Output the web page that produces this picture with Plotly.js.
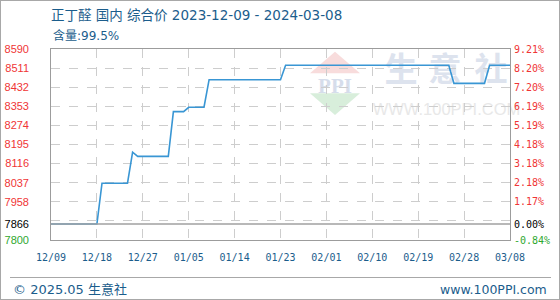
<!DOCTYPE html>
<html>
<head>
<meta charset="utf-8">
<script src="https://cdn.plot.ly/plotly-3.0.1.min.js"></script>
<style>
  html, body { margin: 0; padding: 0; background: #fff; }
  #frame { width: 560px; height: 300px; box-sizing: border-box; border: 1px solid #a8a8a8; }
  #chart { width: 558px; height: 298px; }
</style>
</head>
<body>
<div id="frame"><div id="chart"></div></div>
<script>
// n-Butyraldehyde, domestic composite price (CNY/t)
const dates = [
  '2023-12-09', '2023-12-18', '2023-12-19', '2023-12-24', '2023-12-25',
  '2023-12-26', '2024-01-01', '2024-01-02', '2024-01-04', '2024-01-05',
  '2024-01-08', '2024-01-09', '2024-01-23', '2024-01-24', '2024-02-25',
  '2024-02-26', '2024-03-03', '2024-03-04', '2024-03-08'
];
const prices = [
  7866, 7866, 8035, 8035, 8163,
  8146, 8146, 8331, 8331, 8349,
  8349, 8463, 8463, 8523, 8523,
  8448, 8448, 8523, 8523
];

// axis labels: price on the left, change vs. first day on the right
const priceTicks = [7800, 7866, 7958, 8037, 8116, 8195, 8274, 8353, 8432, 8511, 8590];
const priceTickText = ['7800', '7866', '7958', '8037', '8116', '8195', '8274', '8353', '8432', '8511', '8590'];
const changeTickText = ['-0.84%', '0.00%', '1.17%', '2.18%', '3.18%', '4.18%', '5.19%', '6.19%', '7.20%', '8.20%', '9.21%'];

const titleText = '正丁醛 国内 综合价 2023-12-09 - 2024-03-08';
const subtitleText = '含量:99.5%';
const footerLeft = '© 2025.05 生意社';
const footerRight = 'www.100PPI.com';

const basePrice = prices[0];
const RED = '#f03535', GREEN = '#2fa82f', BLACK = '#000';
const NAVY = '#1b5d8c';

function tint(v, label) {
  const c = v > basePrice ? RED : (v < basePrice ? GREEN : BLACK);
  return '<span style="color:' + c + '">' + label + '</span>';
}

const yRange = [7800, 8590];
const xRange = [dates[0], dates[dates.length - 1]];
const DAY = 86400000;

const line = {
  x: dates, y: prices, type: 'scatter', mode: 'lines',
  line: { color: '#3996d4', width: 1.6, shape: 'linear' },
  hoverinfo: 'skip', showlegend: false
};
// carriers for the two label axes (not visible)
const leftCarrier = { x: dates, y: prices, yaxis: 'y2', type: 'scatter', mode: 'lines',
  line: { width: 0, color: 'rgba(0,0,0,0)' }, hoverinfo: 'skip', showlegend: false };
const rightCarrier = { x: dates, y: prices, yaxis: 'y3', type: 'scatter', mode: 'lines',
  line: { width: 0, color: 'rgba(0,0,0,0)' }, hoverinfo: 'skip', showlegend: false };

// plot area in div pixels: x 50..509, y 48..239
const W = 459, H = 191, L = 50, B = 239;
const px = v => (v - L) / W;
const py = v => (B - v) / H;

const wmBlue = '#dde3ee';
const shapes = [
  // base-price reference line
  { type: 'line', xref: 'paper', yref: 'y', x0: 0, x1: 1, y0: basePrice, y1: basePrice,
    line: { color: '#a0a0a0', width: 1.5 }, layer: 'above' },
  // watermark logo
  { type: 'path', xref: 'paper', yref: 'paper', layer: 'below',
    path: `M ${px(334)} ${py(50.7)} L ${px(359)} ${py(72.3)} L ${px(309)} ${py(72.3)} Z`,
    fillcolor: '#f8dcdc', line: { width: 0 } },
  { type: 'path', xref: 'paper', yref: 'paper', layer: 'below',
    path: `M ${px(309)} ${py(92.3)} L ${px(359)} ${py(92.3)} L ${px(334)} ${py(114)} Z`,
    fillcolor: '#d8eedb', line: { width: 0 } },
  { type: 'rect', xref: 'paper', yref: 'paper', layer: 'below',
    x0: px(309), x1: px(359), y0: py(92), y1: py(73), line: { width: 0 },
    label: { text: 'PPI', textposition: 'middle center',
      font: { family: 'Liberation Serif', size: 21, color: '#d6ddeb', weight: 'bold' } } },
  // watermark characters
  ...[['生', 400], ['意', 444], ['社', 490]].map(([ch, cx]) => ({
    type: 'rect', xref: 'paper', yref: 'paper', layer: 'below',
    x0: px(cx - 20), x1: px(cx + 20), y0: py(91), y1: py(51), line: { width: 0 },
    label: { text: ch, textposition: 'middle center',
      font: { family: 'Noto Sans CJK SC', size: 33, color: wmBlue, weight: 'bold' } }
  })),
  { type: 'rect', xref: 'paper', yref: 'paper', layer: 'below',
    x0: px(384), x1: px(507), y0: py(116), y1: py(96), line: { width: 0 },
    label: { text: 'WWW.100PPI.COM', textposition: 'middle center',
      font: { family: 'Liberation Sans', size: 16.5, color: '#e8e8e8' } } },
  // footer separator
  { type: 'line', xref: 'paper', yref: 'paper', x0: px(9), x1: px(550), y0: py(276.5), y1: py(276.5),
    line: { color: '#a8a8a8', width: 1 } }
];

const annotations = [
  { text: subtitleText, xref: 'paper', yref: 'paper', x: 0, y: py(34), xanchor: 'left', yanchor: 'middle',
    showarrow: false, font: { family: 'DejaVu Sans, Noto Sans CJK SC', size: 12, color: NAVY } },
  { text: footerLeft, xref: 'paper', yref: 'paper', x: px(9.5), y: py(288), xanchor: 'left', yanchor: 'middle',
    showarrow: false, font: { family: 'DejaVu Sans, Noto Sans CJK SC', size: 13, color: NAVY } },
  { text: footerRight, xref: 'paper', yref: 'paper', x: px(548), y: py(288), xanchor: 'right', yanchor: 'middle',
    showarrow: false, font: { family: 'DejaVu Sans', size: 12.5, color: NAVY } }
];

const layout = {
  width: 558, height: 298,
  margin: { l: 50, r: 49, t: 48, b: 59, pad: 0 },
  paper_bgcolor: '#fff', plot_bgcolor: '#fff',
  showlegend: false,
  title: { text: titleText, xref: 'paper', x: 0, xanchor: 'left', yref: 'container', y: 1 - 14 / 298, yanchor: 'middle',
    font: { family: 'DejaVu Sans, Noto Sans CJK SC', size: 13.5, color: NAVY } },
  xaxis: {
    type: 'date', range: xRange, tick0: dates[0], dtick: 9 * DAY, tickformat: '%m/%d',
    showgrid: true, gridcolor: '#cdcdcd', griddash: 'dash', gridwidth: 1,
    showline: true, mirror: true, linecolor: '#9c9c9c', linewidth: 1,
    ticks: '', ticklabelstandoff: 8, zeroline: false,
    tickfont: { family: 'DejaVu Sans Mono', size: 10, color: NAVY }
  },
  yaxis: {
    range: yRange, tick0: 7800, dtick: 79,
    showgrid: true, gridcolor: '#cdcdcd', griddash: 'dash', gridwidth: 1,
    showticklabels: false, ticks: '',
    showline: true, mirror: true, linecolor: '#9c9c9c', linewidth: 1, zeroline: false
  },
  yaxis2: {
    overlaying: 'y', side: 'left', range: yRange, tickmode: 'array',
    tickvals: priceTicks, ticktext: priceTicks.map((v, i) => tint(v, priceTickText[i])),
    showgrid: false, showline: false, ticks: '', zeroline: false, ticklabelstandoff: 21,
    tickfont: { family: 'Liberation Sans', size: 11 }
  },
  yaxis3: {
    overlaying: 'y', side: 'right', range: yRange, tickmode: 'array',
    tickvals: priceTicks, ticktext: priceTicks.map((v, i) => tint(v, changeTickText[i])),
    showgrid: false, showline: false, ticks: '', zeroline: false, ticklabelstandoff: 3,
    tickfont: { family: 'DejaVu Sans Mono', size: 10 }
  },
  shapes: shapes,
  annotations: annotations
};

Plotly.newPlot('chart', [line, leftCarrier, rightCarrier], layout, { staticPlot: true, displayModeBar: false });
</script>
</body>
</html>
